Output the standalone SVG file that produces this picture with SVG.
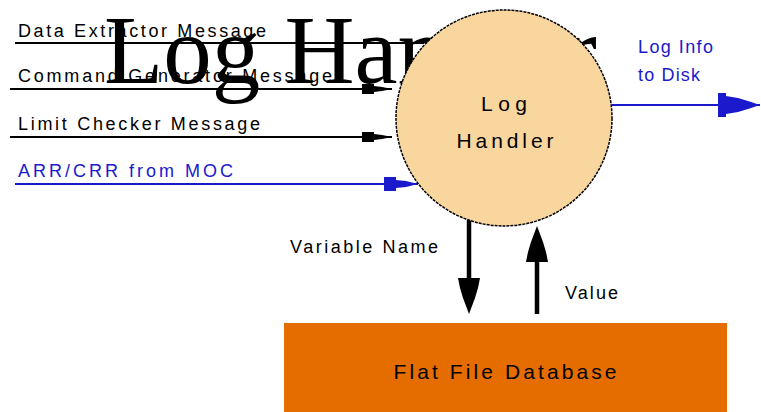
<svg xmlns="http://www.w3.org/2000/svg" width="761" height="412" viewBox="0 0 761 412">
<style>
.lbl{font-family:"Liberation Sans",Arial,sans-serif;font-size:18px;fill:#000}
.big{font-size:21px}
.blue{fill:#1a1acc}
.ln{stroke:#000;stroke-width:2;fill:none}
.bln{stroke:#1a1acc;stroke-width:2;fill:none}
.thick{stroke:#000;stroke-width:4.5;fill:none}
.title{font-family:"Liberation Serif","Times New Roman",serif;font-size:97px;fill:#000}
</style>
<defs>
<marker id="ahS" markerUnits="userSpaceOnUse" markerWidth="30" markerHeight="14" refX="30" refY="7" orient="auto">
<path d="M0,2 L12,2 L12,4 L20,5 L30,7 L20,9 L12,10 L12,12 L0,12 Z" fill="#000"/>
</marker>
<marker id="ahB" markerUnits="userSpaceOnUse" markerWidth="34" markerHeight="18" refX="34" refY="9" orient="auto">
<path d="M0,2 L12,2 L12,5 L22,6 L34,9 L22,12 L12,13 L12,16 L0,16 Z" fill="#1a1acc"/>
</marker>
<marker id="ahBig" markerUnits="userSpaceOnUse" markerWidth="42" markerHeight="26" refX="42" refY="13" orient="auto">
<path d="M0,1 L8,1 L8,4 L20,6 L30,9 L42,13 L30,17 L20,20 L8,22 L8,25 L0,25 Z" fill="#1a1acc"/>
</marker>
<marker id="ahV" markerUnits="userSpaceOnUse" markerWidth="36" markerHeight="24" refX="0" refY="12" orient="auto">
<path d="M0,1 L10,3 L20,6 L36,12 L20,18 L10,21 L0,23 Z" fill="#000"/>
</marker>
</defs>

<g id="connectors">
<line class="ln" x1="15" y1="43" x2="424" y2="43"/>
<line class="ln" x1="10" y1="89" x2="392" y2="89" marker-end="url(#ahS)"/>
<line class="ln" x1="10" y1="137" x2="392" y2="137" marker-end="url(#ahS)"/>
<line class="bln" x1="15" y1="184" x2="418" y2="184" marker-end="url(#ahB)"/>
<line class="bln" x1="612" y1="105" x2="760" y2="105" marker-end="url(#ahBig)"/>
<line class="thick" x1="469" y1="220" x2="469" y2="278" marker-end="url(#ahV)"/>
<line class="thick" x1="537" y1="314" x2="537" y2="262" marker-end="url(#ahV)"/>
</g>

<g id="labels">
<text class="lbl" x="18" y="37" textLength="248" lengthAdjust="spacing">Data Extractor Message</text>
<text class="lbl" x="18" y="82" textLength="314" lengthAdjust="spacing">Command Generator Message</text>
<text class="lbl" x="18" y="130" textLength="242" lengthAdjust="spacing">Limit Checker Message</text>
<text class="lbl blue" x="18" y="177" textLength="215" lengthAdjust="spacing">ARR/CRR from MOC</text>
<text class="lbl blue" x="638" y="53" textLength="75" lengthAdjust="spacing">Log Info</text>
<text class="lbl blue" x="638" y="81" textLength="62" lengthAdjust="spacing">to Disk</text>
<text class="lbl" x="290" y="253" textLength="148" lengthAdjust="spacing">Variable Name</text>
<text class="lbl" x="565" y="299" textLength="53" lengthAdjust="spacing">Value</text>
</g>

<g id="title">
<text class="title" x="104" y="83">Log Handler</text>
</g>

<g id="log-handler">
<circle cx="504" cy="118" r="108" fill="#fad69f" stroke="#000" stroke-width="1.5" stroke-dasharray="3,1"/>
<text class="lbl big" x="504" y="111" text-anchor="middle" textLength="46" lengthAdjust="spacing">Log</text>
<text class="lbl big" x="505" y="148" text-anchor="middle" textLength="97" lengthAdjust="spacing">Handler</text>
</g>

<g id="flat-file-database">
<rect x="284" y="323" width="443" height="95" fill="#e56d00"/>
<text class="lbl big" x="505" y="379" text-anchor="middle" textLength="223" lengthAdjust="spacing">Flat File Database</text>
</g>
</svg>
